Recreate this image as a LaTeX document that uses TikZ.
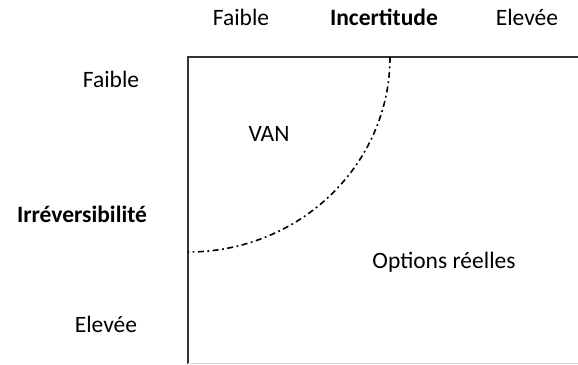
\documentclass[tikz,border=0pt]{standalone}
\usepackage{fontspec}
\setmainfont{Carlito}
\begin{document}
\begin{tikzpicture}[x=1pt,y=1pt,
  lbl/.style={anchor=base,inner sep=0pt,font=\fontsize{23.5}{28}\selectfont,text=black},
  blbl/.style={lbl,font=\fontsize{23.5}{28}\selectfont\bfseries},
  frame/.style={draw=black!80,line width=1.8pt},
  limit/.style={draw=black,line width=1.6pt,dash pattern=on 6pt off 3.5pt on 1.8pt off 3.5pt}]
\useasboundingbox (0,0) rectangle (578,364);
\clip (0,0) rectangle (578,364);
% axis labels
\node[lbl]  (tf) at (241,338) {Faible};
\node[blbl] (ti) at (384,338) {Incertitude};
\node[lbl]  (te) at (527,338) {Elevée};
\node[lbl]  (lf) at (111,276) {Faible};
\node[blbl] (li) at (82,141) {Irréversibilité};
\node[lbl]  (le) at (106,31) {Elevée};
% frame
\coordinate (tl) at (188,307);
\draw[frame] (188,0) -- (tl) -- (600,307);
\draw[draw=black!15,line width=1pt] (188,1) -- (578,1);
% boundary arc
\coordinate (arcstart) at (390,307);
\draw[limit] (arcstart) arc[start angle=0,end angle=-90,x radius=202,y radius=195];
% region labels
\node[lbl] (van) at (269,222) {VAN};
\node[lbl] (opt) at (444,95) {Options réelles};
\end{tikzpicture}
\end{document}
